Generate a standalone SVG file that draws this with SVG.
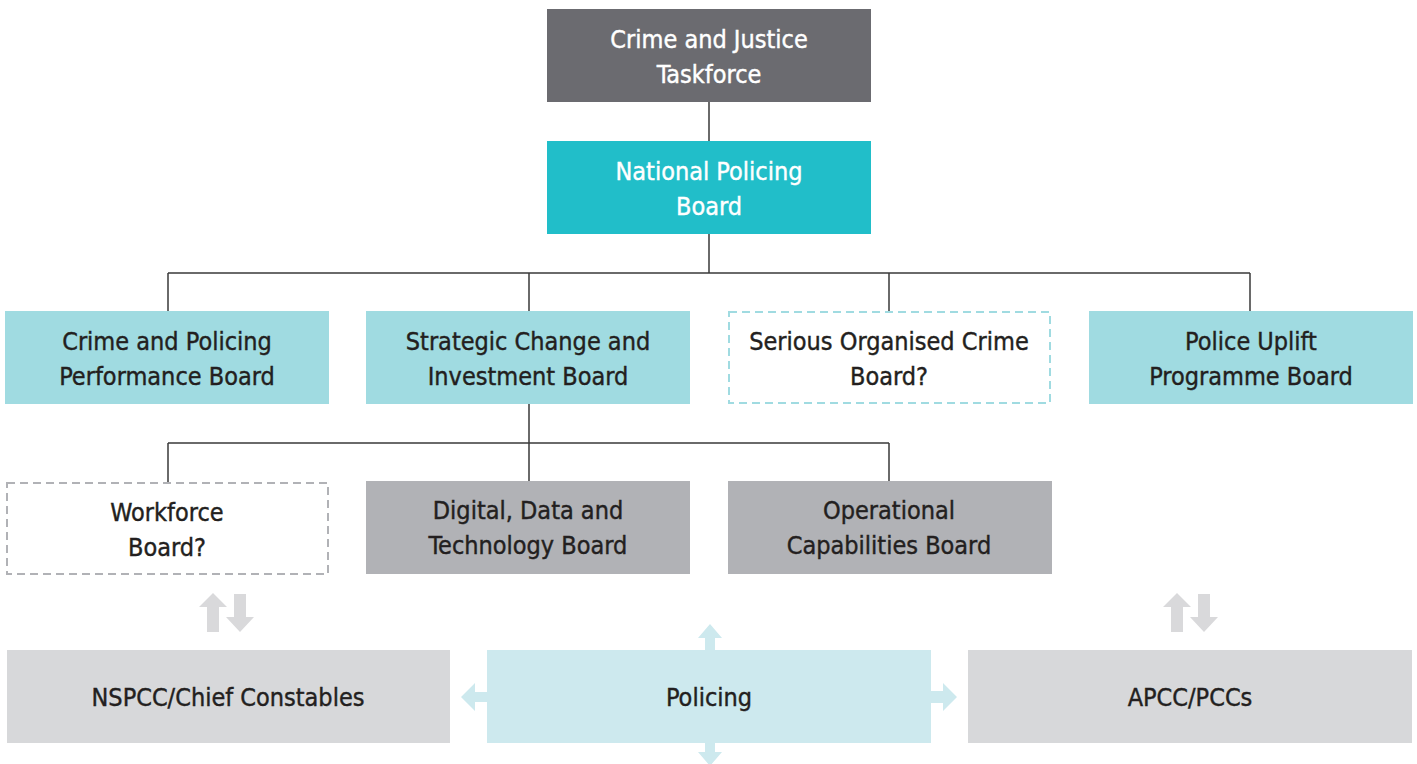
<svg xmlns="http://www.w3.org/2000/svg" width="1417" height="764" viewBox="0 0 1417 764">
<style>
text{font-family:"DejaVu Sans Condensed","Liberation Sans",sans-serif;font-size:25px;text-anchor:middle;fill:#231f20;stroke:#231f20;stroke-width:0.4}
.w{fill:#ffffff;stroke:#ffffff}
.ln{stroke:#3a3a3a;stroke-width:1.5;fill:none}
.dark{fill:#6b6b70}
.teal{fill:#21bec9}
.lt{fill:#a0dbe1}
.grey{fill:#b1b2b6}
.pale{fill:#d7d8da}
.pol{fill:#cde9ee}
.ga{fill:#d9d9db}
</style>
<g id="connectors">
<path class="ln" d="M709 102V141M709 234V273M168 273H1250M168 273V311M529 273V311M889 273V311M1250 273V311M529 404V443M168 443H889M168 443V482M529 443V481M889 443V481"/>
</g>
<g id="taskforce"><rect class="dark" x="547" y="9" width="324" height="93"/><text class="w" x="709" y="48">Crime and Justice</text><text class="w" x="709" y="83">Taskforce</text></g>
<g id="npb"><rect class="teal" x="547" y="141" width="324" height="93"/><text class="w" x="709" y="180">National Policing</text><text class="w" x="709" y="215">Board</text></g>
<g id="cppb"><rect class="lt" x="5" y="311" width="324" height="93"/><text x="167" y="350">Crime and Policing</text><text x="167" y="385">Performance Board</text></g>
<g id="scib"><rect class="lt" x="366" y="311" width="324" height="93"/><text x="528" y="350">Strategic Change and</text><text x="528" y="385">Investment Board</text></g>
<g id="socb"><rect x="729" y="312" width="321" height="91" fill="#ffffff" stroke="#a0dbe1" stroke-width="2" stroke-dasharray="8 5"/><text x="889" y="350">Serious Organised Crime</text><text x="889" y="385">Board?</text></g>
<g id="pupb"><rect class="lt" x="1089" y="311" width="324" height="93"/><text x="1251" y="350">Police Uplift</text><text x="1251" y="385">Programme Board</text></g>
<g id="wfb"><rect x="7" y="483" width="321" height="91" fill="#ffffff" stroke="#b1b2b6" stroke-width="2" stroke-dasharray="8 5"/><text x="167" y="521">Workforce</text><text x="167" y="556">Board?</text></g>
<g id="ddtb"><rect class="grey" x="366" y="481" width="324" height="93"/><text x="528" y="519">Digital, Data and</text><text x="528" y="554">Technology Board</text></g>
<g id="ocb"><rect class="grey" x="728" y="481" width="324" height="93"/><text x="889" y="519">Operational</text><text x="889" y="554">Capabilities Board</text></g>
<g id="arrows-left"><path class="ga" d="M213 593L227 607H219V632H207V607H199Z"/><path class="ga" d="M240 632L254 617H246V594H234V617H226Z"/></g>
<g id="arrows-right"><path class="ga" d="M1177 593L1191 607H1183V632H1171V607H1163Z"/><path class="ga" d="M1204 632L1218 617H1210V594H1198V617H1190Z"/></g>
<g id="nspcc"><rect class="pale" x="7" y="650" width="443" height="93"/><text x="228" y="706">NSPCC/Chief Constables</text></g>
<g id="policing"><rect class="pol" x="487" y="650" width="444" height="93"/><text x="709" y="706">Policing</text>
<path class="pol" d="M461 697L475 683V692H488V702H475V711Z"/>
<path class="pol" d="M957 697L943 683V691H930V703H943V711Z"/>
<path class="pol" d="M710 624L722 638H715V651H705V638H698Z"/>
<path class="pol" d="M710 766L722 752H715V742H705V752H698Z"/>
</g>
<g id="apcc"><rect class="pale" x="968" y="650" width="444" height="93"/><text x="1190" y="706">APCC/PCCs</text></g>
</svg>
